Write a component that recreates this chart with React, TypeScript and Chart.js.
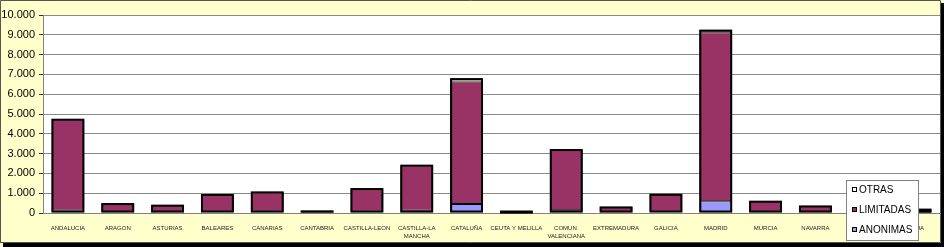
import React, { useEffect, useRef } from "react";
import { Chart, registerables } from "chart.js";

Chart.register(...registerables);

const categories: (string | string[])[] = [
  "ANDALUCIA", "ARAGON", "ASTURIAS", "BALEARES", "CANARIAS", "CANTABRIA",
  "CASTILLA-LEON", ["CASTILLA-LA", "MANCHA"], "CATALUÑA", "CEUTA Y MELILLA",
  ["COMUN.", "VALENCIANA"], "EXTREMADURA", "GALICIA", "MADRID", "MURCIA",
  "NAVARRA", "PAIS VASCO", "RIOJA",
];

const anonimas = [130, 30, 20, 40, 70, 10, 60, 110, 450, 10, 140, 20, 40, 590, 30, 30, 60, 15];
const limitadas = [4600, 460, 390, 900, 1000, 115, 1180, 2300, 6190, 55, 3050, 300, 915, 8540, 575, 340, 820, 200];
const otras = [30, 10, 10, 20, 20, 5, 20, 30, 170, 5, 40, 10, 15, 130, 15, 10, 20, 5];

const legendItems = [
  { label: "OTRAS", color: "#FFFFCC" },
  { label: "LIMITADAS", color: "#993366" },
  { label: "ANONIMAS", color: "#9999FF" },
];

const FONT = "'Liberation Sans', Arial, sans-serif";

const fmt = (v: number) => String(v).replace(/\B(?=(\d{3})+(?!\d))/g, ".");

const framePlugin = {
  id: "frame",
  beforeDraw(chart: any) {
    const { ctx, width, height, chartArea } = chart;
    ctx.save();
    ctx.fillStyle = "#FFFFCC";
    ctx.fillRect(0, 0, width, height);
    ctx.fillStyle = "#FFFFFF";
    ctx.fillRect(chartArea.left, chartArea.top, chartArea.right - chartArea.left, chartArea.bottom - chartArea.top);
    ctx.strokeStyle = "#555555";
    ctx.lineWidth = 1;
    ctx.beginPath();
    ctx.moveTo(0.5, height - 4);
    ctx.lineTo(0.5, 0.5);
    ctx.lineTo(width - 3.5, 0.5);
    ctx.lineTo(width - 3.5, height - 4.5);
    ctx.lineTo(0.5, height - 4.5);
    ctx.stroke();
    ctx.fillStyle = "#000000";
    ctx.fillRect(width - 3, 3, 3, height - 3);
    ctx.fillRect(3, height - 4, width - 3, 4);
    ctx.restore();
  },
  afterDatasetsDraw(chart: any) {
    const { ctx } = chart;
    const bottomMeta = chart.getDatasetMeta(0);
    const topMeta = chart.getDatasetMeta(chart.data.datasets.length - 1);
    ctx.save();
    ctx.strokeStyle = "#000";
    ctx.lineWidth = 2;
    bottomMeta.data.forEach((bar: any, i: number) => {
      const top = topMeta.data[i];
      const { x, width, base } = bar.getProps(["x", "width", "base"], true);
      const ty = top.getProps(["y"], true).y;
      const left = x - width / 2;
      ctx.strokeRect(left + 1, ty + 1, width - 2, base - ty - 2);
    });
    ctx.restore();
  },
  afterDraw(chart: any) {
    const { ctx } = chart;
    ctx.save();
    const x = 846, y = 180, w = 72, h = 60;
    ctx.fillStyle = "#FFFFFF";
    ctx.fillRect(x, y, w, h);
    ctx.strokeStyle = "#808080";
    ctx.lineWidth = 1;
    ctx.strokeRect(x + 0.5, y + 0.5, w, h);
    ctx.font = `10px ${FONT}`;
    ctx.textBaseline = "middle";
    legendItems.forEach((it, i) => {
      const cy = y + 10 + i * 20;
      ctx.fillStyle = it.color;
      ctx.fillRect(852, cy - 3, 5, 5);
      ctx.strokeStyle = "#000";
      ctx.strokeRect(852.5, cy - 2.5, 4, 4);
      ctx.fillStyle = "#000";
      ctx.fillText(it.label, 859, cy + 0.5);
    });
    ctx.restore();
  },
};

export default function App() {
  const ref = useRef<HTMLCanvasElement>(null);
  useEffect(() => {
    document.body.style.margin = "0";
    const common = {
      borderColor: "#000000",
      borderWidth: 1,
      borderSkipped: false as any,
      barPercentage: 0.66,
      categoryPercentage: 1,
    };
    const chart = new Chart(ref.current!, {
      type: "bar",
      data: {
        labels: categories as any,
        datasets: [
          { label: "ANONIMAS", data: anonimas, backgroundColor: "#9999FF", ...common },
          { label: "LIMITADAS", data: limitadas, backgroundColor: "#993366", ...common },
          { label: "OTRAS", data: otras, backgroundColor: "#FFFFCC", ...common },
        ],
      },
      options: {
        animation: false,
        responsive: false,
        maintainAspectRatio: false,
        layout: { padding: { top: 15, right: 4, left: 0, bottom: 0 } },
        plugins: { legend: { display: false }, tooltip: { enabled: false } },
        scales: {
          x: {
            stacked: true,
            grid: { display: false },
            border: { display: true, color: "#808080" },
            ticks: {
              autoSkip: false,
              maxRotation: 0,
              minRotation: 0,
              padding: 3,
              color: "#222",
              font: { family: FONT, size: 6, lineHeight: 1.4 },
            },
            afterFit(s: any) { s.height = 34; },
          },
          y: {
            stacked: true,
            min: 0,
            max: 10000,
            grid: { color: "#8a8a8a", lineWidth: 1, tickLength: 4, tickColor: "#333" },
            border: { display: true, color: "#808080" },
            ticks: {
              stepSize: 1000,
              padding: 4,
              color: "#000",
              font: { family: FONT, size: 11 },
              callback: (v: any) => fmt(Number(v)),
            },
            afterFit(s: any) { s.width = 43; },
          },
        },
      },
      plugins: [framePlugin],
    });
    return () => chart.destroy();
  }, []);
  return (
    <div style={{ position: "absolute", left: 0, top: 0, width: 944, height: 247 }}>
      <canvas ref={ref} width={944} height={247} style={{ display: "block" }} />
    </div>
  );
}
